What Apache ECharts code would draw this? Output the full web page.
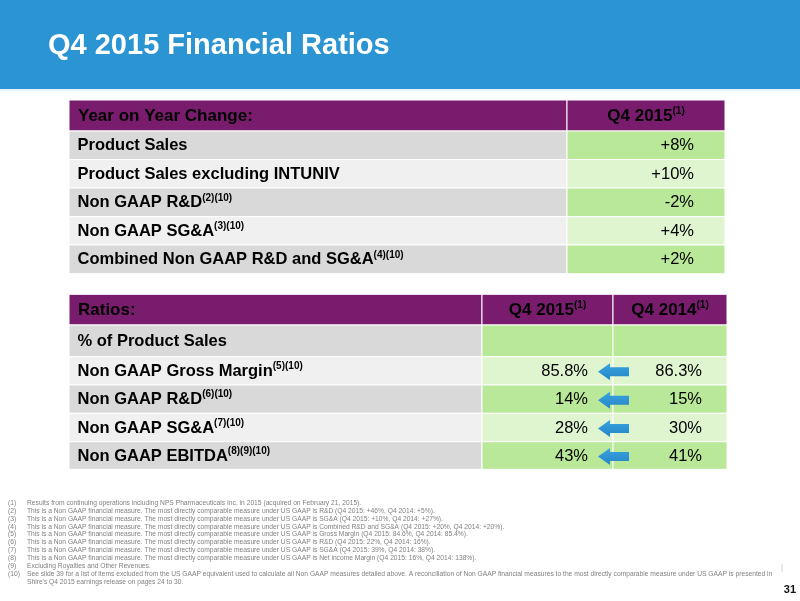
<!DOCTYPE html>
<html>
<head>
<meta charset="utf-8">
<title>Q4 2015 Financial Ratios</title>
<script src="https://cdn.jsdelivr.net/npm/echarts/dist/echarts.min.js"></script>
<style>
  html, body { margin: 0; padding: 0; background: #fff; }
  #chart { width: 800px; height: 601px; }
</style>
</head>
<body>
<div id="chart"></div>
<script>
// ---- data ----
var titleText = 'Q4 2015 Financial Ratios';
var headerNote = '(1)';

var yoyHeader = ['Year on Year Change:', 'Q4 2015'];
var yoyLabels = ['Product Sales', 'Product Sales excluding INTUNIV', 'Non GAAP R&D', 'Non GAAP SG&A', 'Combined Non GAAP R&D and SG&A'];
var yoyNotes = ['', '', '(2)(10)', '(3)(10)', '(4)(10)'];
var yoyQ42015 = ['+8%', '+10%', '-2%', '+4%', '+2%'];

var ratioHeader = ['Ratios:', 'Q4 2015', 'Q4 2014'];
var ratioLabels = ['% of Product Sales', 'Non GAAP Gross Margin', 'Non GAAP R&D', 'Non GAAP SG&A', 'Non GAAP EBITDA'];
var ratioNotes = ['', '(5)(10)', '(6)(10)', '(7)(10)', '(8)(9)(10)'];
var ratioQ42015 = [null, 85.8, 14, 28, 43];
var ratioQ42014 = [null, 86.3, 15, 30, 41];

var footnoteNums = ['(1)', '(2)', '(3)', '(4)', '(5)', '(6)', '(7)', '(8)', '(9)', '(10)', ''];
var footnoteTexts = [
  'Results from continuing operations including NPS Pharmaceuticals Inc. in 2015 (acquired on February 21, 2015).',
  'This is a Non GAAP financial measure. The most directly comparable measure under US GAAP is R&D (Q4 2015: +46%, Q4 2014: +5%).',
  'This is a Non GAAP financial measure. The most directly comparable measure under US GAAP is SG&A (Q4 2015: +10%, Q4 2014: +27%).',
  'This is a Non GAAP financial measure. The most directly comparable measure under US GAAP is Combined R&D and SG&A (Q4 2015: +20%, Q4 2014: +20%).',
  'This is a Non GAAP financial measure. The most directly comparable measure under US GAAP is Gross Margin (Q4 2015: 84.6%, Q4 2014: 85.4%).',
  'This is a Non GAAP financial measure. The most directly comparable measure under US GAAP is R&D (Q4 2015: 22%, Q4 2014: 16%).',
  'This is a Non GAAP financial measure. The most directly comparable measure under US GAAP is SG&A (Q4 2015: 39%, Q4 2014: 38%).',
  'This is a Non GAAP financial measure. The most directly comparable measure under US GAAP is Net income Margin (Q4 2015: 16%, Q4 2014: 138%).',
  'Excluding Royalties and Other Revenues.',
  'See slide 39 for a list of items excluded from the US GAAP equivalent used to calculate all Non GAAP measures detailed above. A reconciliation of Non GAAP financial measures to the most directly comparable measure under US GAAP is presented in',
  "Shire's Q4 2015 earnings release on pages 24 to 30."
];
var pageNumber = '31';

// ---- layout (table-local units, 1 unit = 1px) ----
var FONT = '"Liberation Sans", Arial, sans-serif';
var PURPLE = '#791c6e';
var GRAY = ['#d9d9d9', '#f0f0f0'];
var GREEN = ['#b8e898', '#def5d0'];
var BLUE = '#2b94d3';

var yoyCols = [0, 498, 656];
var yoyRows = [0, 31, 59.5, 88, 116.7, 145, 173.7];
var ratioCols = [0, 413, 544, 658];
var ratioRows = [0, 30.7, 62.4, 90.7, 119, 147.4, 175];

var rich = {
  h: { fontFamily: FONT, fontWeight: 'bold', fontSize: 17, color: '#fff', lineHeight: 20 },
  hs: { fontFamily: FONT, fontWeight: 'bold', fontSize: 10, color: '#fff', lineHeight: 14, verticalAlign: 'top' },
  b: { fontFamily: FONT, fontWeight: 'bold', fontSize: 16.5, color: '#111', lineHeight: 20 },
  s: { fontFamily: FONT, fontWeight: 'bold', fontSize: 10, color: '#111', lineHeight: 14, verticalAlign: 'top' },
  v: { fontFamily: FONT, fontSize: 16.5, color: '#111', lineHeight: 20 }
};

function pct(v) {
  if (v === null || v === undefined) return '';
  return v + '%';
}

// build the cell list for one table
function buildCells(cols, rows, header, labels, notes, columns, valuePad) {
  var cells = [];
  for (var c = 0; c < header.length; c++) {
    cells.push({
      x0: cols[c], x1: cols[c + 1], y0: rows[0], y1: rows[1], fill: PURPLE,
      text: c === 0 ? '{h|' + header[c] + '}' : '{h|' + header[c] + '}{hs|' + headerNote + '}',
      align: c === 0 ? 'left' : 'center', pad: 9
    });
  }
  for (var r = 0; r < labels.length; r++) {
    var shade = r % 2;
    cells.push({
      x0: cols[0], x1: cols[1], y0: rows[r + 1], y1: rows[r + 2], fill: GRAY[shade],
      text: '{b|' + labels[r] + '}' + (notes[r] ? '{s|' + notes[r] + '}' : ''),
      align: 'left', pad: 8.5
    });
    for (var k = 0; k < columns.length; k++) {
      var t = columns[k][r];
      cells.push({
        x0: cols[k + 1], x1: cols[k + 2], y0: rows[r + 1], y1: rows[r + 2], fill: GREEN[shade],
        text: t ? '{v|' + t + '}' : '',
        align: 'right', pad: valuePad
      });
    }
  }
  return cells;
}

var yoyCells = buildCells(yoyCols, yoyRows, yoyHeader, yoyLabels, yoyNotes, [yoyQ42015], 31);
var ratioCells = buildCells(ratioCols, ratioRows, ratioHeader, ratioLabels, ratioNotes,
  [ratioQ42015.map(pct), ratioQ42014.map(pct)], 25);

function cellRenderer(cells) {
  return function (params, api) {
    var c = cells[params.dataIndex];
    var p0 = api.coord([api.value(0), api.value(1)]);
    var p1 = api.coord([api.value(2), api.value(3)]);
    var tx = c.align === 'left' ? p0[0] + c.pad : (c.align === 'right' ? p1[0] - c.pad : (p0[0] + p1[0]) / 2);
    var children = [{
      type: 'rect',
      shape: { x: p0[0], y: p0[1], width: p1[0] - p0[0], height: p1[1] - p0[1] },
      style: { fill: c.fill, stroke: '#fff', lineWidth: 1 }
    }];
    if (c.text) {
      children.push({
        type: 'text', x: tx, y: (p0[1] + p1[1]) / 2 + 0.5,
        style: { text: c.text, rich: rich, align: c.align, verticalAlign: 'middle' }
      });
    }
    return { type: 'group', children: children };
  };
}

// arrows: one per ratio row that has both years, pointing from Q4 2014 to Q4 2015
var arrowData = [];
for (var i = 0; i < ratioLabels.length; i++) {
  if (ratioQ42015[i] !== null && ratioQ42014[i] !== null) {
    arrowData.push([ratioCols[2], (ratioRows[i + 1] + ratioRows[i + 2]) / 2]);
  }
}

function arrowRenderer(params, api) {
  var p = api.coord([api.value(0), api.value(1)]);
  var x = p[0], y = p[1] + 1;
  return {
    type: 'polygon',
    shape: { points: [
      [x - 15, y], [x - 3, y - 8.5], [x - 3, y - 4.5], [x + 16, y - 4.5],
      [x + 16, y + 4.5], [x - 3, y + 4.5], [x - 3, y + 8.5]
    ] },
    style: {
      fill: new echarts.graphic.LinearGradient(0, 0, 0, 1, [
        { offset: 0, color: '#3aa3e0' }, { offset: 1, color: '#2486c6' }
      ])
    }
  };
}

function cellData(cells) {
  return cells.map(function (c) { return [c.x0, c.y0, c.x1, c.y1]; });
}

// footnotes as plain text lines
var noteFont = '6.7px ' + FONT;
var graphics = [
  { type: 'rect', left: 0, top: 0, shape: { width: 800, height: 89 }, style: { fill: BLUE }, z: 0 },
  { type: 'rect', left: 0, top: 89, shape: { width: 800, height: 2 }, style: { fill: '#e3f5fb' }, z: 0 },
  { type: 'line', shape: { x1: 782, y1: 564, x2: 782, y2: 572 }, style: { stroke: '#c9d9e6', lineWidth: 1 } },
  {
    type: 'text', x: 796, y: 590,
    style: { text: pageNumber, font: 'bold 11px ' + FONT, fill: '#111', textAlign: 'right', textVerticalAlign: 'middle' }
  }
];
for (var f = 0; f < footnoteTexts.length; f++) {
  var fy = 503 + f * 7.9;
  if (footnoteNums[f]) {
    graphics.push({
      type: 'text', x: 8, y: fy,
      style: { text: footnoteNums[f], font: noteFont, fill: '#808080', textVerticalAlign: 'middle' }
    });
  }
  graphics.push({
    type: 'text', x: 27, y: fy,
    style: { text: footnoteTexts[f], font: noteFont, fill: '#808080', textVerticalAlign: 'middle' }
  });
}

var chart = echarts.init(document.getElementById('chart'));

var option = {
  backgroundColor: '#fff',
  animation: false,
  title: {
    text: titleText, left: 48, top: 31, padding: 0,
    textStyle: { fontFamily: FONT, fontWeight: 'bold', fontSize: 29, color: '#fff', lineHeight: 29 }
  },
  grid: [
    { left: 69, top: 100, width: 656, height: 173.7 },
    { left: 69, top: 294.3, width: 658, height: 175 }
  ],
  xAxis: [
    { type: 'value', gridIndex: 0, min: 0, max: 656, show: false },
    { type: 'value', gridIndex: 1, min: 0, max: 658, show: false }
  ],
  yAxis: [
    { type: 'value', gridIndex: 0, min: 0, max: 173.7, inverse: true, show: false },
    { type: 'value', gridIndex: 1, min: 0, max: 175, inverse: true, show: false }
  ],
  graphic: graphics,
  series: [
    {
      type: 'custom', xAxisIndex: 0, yAxisIndex: 0, renderItem: cellRenderer(yoyCells),
      data: cellData(yoyCells), encode: { x: [0, 2], y: [1, 3] }, silent: true
    },
    {
      type: 'custom', xAxisIndex: 1, yAxisIndex: 1, renderItem: cellRenderer(ratioCells),
      data: cellData(ratioCells), encode: { x: [0, 2], y: [1, 3] }, silent: true
    },
    {
      type: 'custom', xAxisIndex: 1, yAxisIndex: 1, renderItem: arrowRenderer,
      data: arrowData, encode: { x: 0, y: 1 }, z: 5, silent: true
    }
  ]
};

chart.setOption(option);
</script>
</body>
</html>
